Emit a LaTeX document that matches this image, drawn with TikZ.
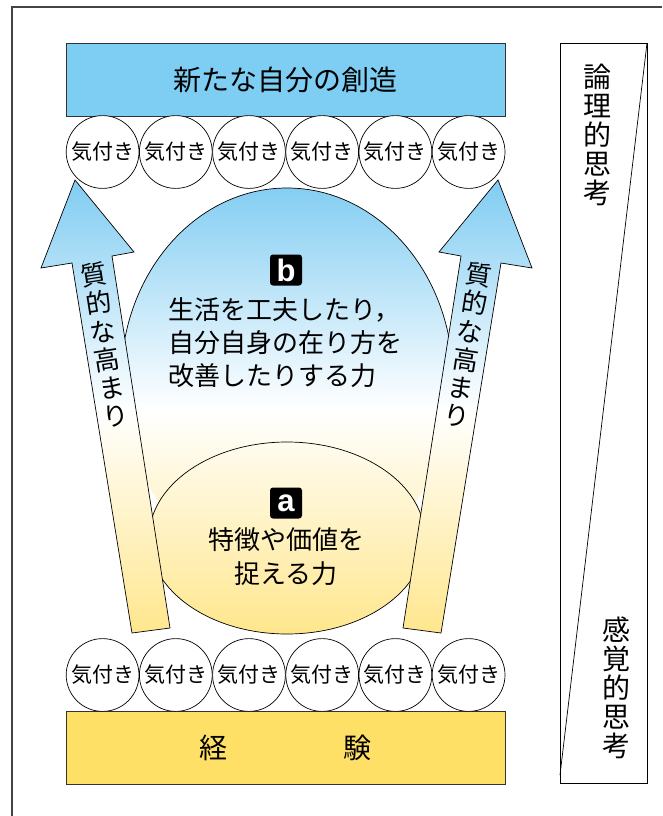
\documentclass[tikz,border=0pt]{standalone}
\usepackage{fontspec}
\newfontfamily\jp{Noto Sans CJK JP}
\newfontfamily\lab{Liberation Sans}
\definecolor{boxblue}{HTML}{7ECEF4}
\definecolor{boxyellow}{HTML}{FFE066}
\definecolor{gblue}{HTML}{80CCF2}
\definecolor{gyellow}{HTML}{FFE68A}
\definecolor{framecol}{HTML}{444444}
\tikzset{
  kc/.style={circle, draw=black, line width=0.7pt, fill=white, minimum size=72.8pt, inner sep=0pt, font=\jp\fontsize{21}{21}\selectfont},
  bigbox/.style={rectangle, draw=black!80, line width=0.8pt, minimum width=439pt, minimum height=73pt, inner sep=0pt},
  txt/.style={inner sep=0pt, font=\jp\fontsize{26}{33}\selectfont},
  vtxt/.style={inner sep=0pt, align=center, font=\jp\fontsize{28}{29}\selectfont},
  atxt/.style={inner sep=0pt, align=center, font=\jp\fontsize{26}{28.5}\selectfont},
  labbox/.style={rectangle, rounded corners=3pt, fill=black, text=white, minimum width=32pt, minimum height=31pt, inner sep=0pt, font=\lab\bfseries\fontsize{31}{31}\selectfont},
  outl/.style={draw=black, line width=0.7pt},
  grad/.style={top color=gblue, bottom color=gyellow, middle color=white},
}
\begin{document}
\begin{tikzpicture}[x=1pt,y=-1pt]
\useasboundingbox (0,0) rectangle (662,816);
% outer frame
\draw[framecol, line width=1.2pt] (12,816) -- (12,7) -- (662,7);

% ellipse b
\begin{scope}
  \clip (287,380) ellipse [x radius=166, y radius=192];
  \shade[grad] (0,180) rectangle (662,640);
\end{scope}
\draw[outl] (121,380) arc [start angle=180, end angle=0, x radius=166, y radius=-192];

% ellipse a
\begin{scope}
  \clip (287,538) ellipse [x radius=138, y radius=96];
  \shade[grad] (0,180) rectangle (662,640);
\end{scope}
\draw[outl] (287,538) ellipse [x radius=138, y radius=96];

% arrows
\coordinate (LT) at (75,180);
\coordinate (RT) at (498,180);
\begin{scope}
  \clip (LT) -- (41,268) -- (72,263) -- (132,633) -- (170,628) -- (112,256) -- (134,252) -- cycle;
  \shade[grad] (0,180) rectangle (662,640);
\end{scope}
\draw[outl, line join=miter] (LT) -- (41,268) -- (72,263) -- (132,633) -- (170,628) -- (112,256) -- (134,252) -- cycle;
\begin{scope}
  \clip (RT) -- (532,268) -- (501,263) -- (441,633) -- (403,628) -- (461,256) -- (439,252) -- cycle;
  \shade[grad] (0,180) rectangle (662,640);
\end{scope}
\draw[outl, line join=miter] (RT) -- (532,268) -- (501,263) -- (441,633) -- (403,628) -- (461,256) -- (439,252) -- cycle;

\node[atxt, rotate=9] (al) at (105,345) {質\\的\\な\\高\\ま\\り};
\node[atxt, rotate=-9] (ar) at (468,345) {質\\的\\な\\高\\ま\\り};

% top and bottom boxes
\node[bigbox, fill=boxblue, font=\jp\fontsize{28}{28}\selectfont] (top) at (285.5,79.5) {新たな自分の創造};
\node[bigbox, fill=boxyellow] (bot) at (285.5,747.5) {};
\node[inner sep=0pt, font=\jp\fontsize{28}{28}\selectfont] (kei) at (213,748) {経};
\node[inner sep=0pt, font=\jp\fontsize{28}{28}\selectfont] (ken) at (357,748) {験};

% circles
\foreach \i in {0,...,5} {
  \node[kc] (t\i) at ({102.6+73.2*\i},152) {気付き};
  \node[kc] (b\i) at ({102.6+73.2*\i},675) {気付き};
}

% labels and texts
\node[labbox] (lb) at (286,270) {b};
\node[labbox] (la) at (286,503) {a};
\node[txt, align=left] (tb) at (285,343) {生活を工夫したり，\\自分自身の在り方を\\改善したりする力};
\node[txt, align=center, font=\jp\fontsize{26}{34}\selectfont] (ta) at (286,557) {特徴や価値を\\捉える力};

% right side box
\draw[outl] (560,43) rectangle (647,783);
\coordinate (dg1) at (647,43);
\coordinate (dg2) at (560,775);
\draw[outl] (dg1) -- (dg2);
\node[vtxt] (ron) at (597,135) {論\\理\\的\\思\\考};
\node[vtxt] (kan) at (616,688) {感\\覚\\的\\思\\考};
\end{tikzpicture}
\end{document}
